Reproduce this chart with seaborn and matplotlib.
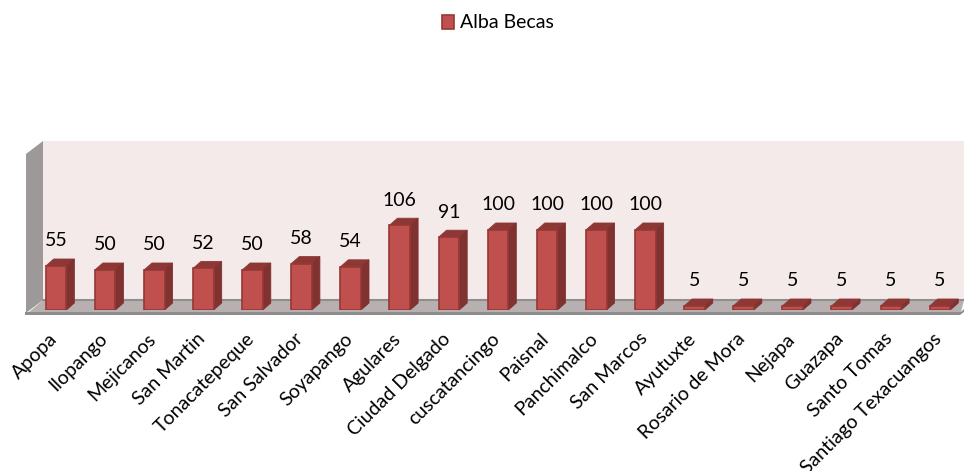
import pandas as pd
import seaborn as sns
import matplotlib
matplotlib.use("Agg")
import matplotlib.pyplot as plt
from matplotlib.patches import Polygon
from matplotlib.transforms import ScaledTranslation

municipios = ["Apopa", "Ilopango", "Mejicanos", "San Martin", "Tonacatepeque", "San Salvador",
              "Soyapango", "Agulares", "Ciudad Delgado", "cuscatancingo", "Paisnal", "Panchimalco",
              "San Marcos", "Ayutuxte", "Rosario de Mora", "Nejapa", "Guazapa", "Santo Tomas",
              "Santiago Texacuangos"]
becas = [55, 50, 50, 52, 50, 58, 54, 106, 91, 100, 100, 100, 100, 5, 5, 5, 5, 5, 5]
serie = "Alba Becas"

W, H = 964, 471
FRONT = "#C0504D"
EDGE = "#953735"
TOP = "#8E3836"
SIDE = "#7F3230"

sns.set_theme(style="white")
plt.rcParams["font.family"] = ["Lato", "DejaVu Sans"]

df = pd.DataFrame({"municipio": municipios, "becas": becas})

fig = plt.figure(figsize=(W / 100, H / 100), dpi=100)

# back wall, side wall and floor, in pixels
bg = fig.add_axes([0, 0, 1, 1])
bg.set_xlim(0, W)
bg.set_ylim(H, 0)
bg.axis("off")
bg.add_patch(Polygon([(43, 141), (964, 141), (964, 300), (43, 300)], fc="#F5EAEA", ec="none"))
bg.add_patch(Polygon([(26, 154), (43, 141), (43, 300), (26, 313)], fc="#9D9999", ec="none"))
bg.add_patch(Polygon([(29, 312), (43, 300), (964, 300), (961, 312)], fc="#B8B0B0", ec="none"))
bg.plot([43, 964], [300, 300], color="#8F8F8F", lw=1.5)
bg.add_patch(Polygon([(25, 312), (961, 312), (964, 309), (964, 312), (960, 315), (25, 315)],
                     fc="#8D8D8D", ec="none"))

# chart axes: 0 sits at y=310 px, 0.8 px per unit
ax = fig.add_axes([31.5 / W, 1 - 310 / H, 933 / W, 160 / H])
ax.patch.set_alpha(0)
sns.barplot(data=df, x="municipio", y="becas", color=FRONT, saturation=1, width=0.42,
            edgecolor=EDGE, linewidth=1.2, label=serie, ax=ax, zorder=3)
ax.set_xlim(-0.5, len(municipios) - 0.5)
ax.set_ylim(0, 200)
ax.set_xlabel("")
ax.set_ylabel("")
ax.set_yticks([])
sns.despine(ax=ax, left=True, bottom=True)
ax.tick_params(axis="x", length=0, pad=10)

# labels end a bit left of the bar centre
shift = ScaledTranslation(-7 / 100, -6 / 100, fig.dpi_scale_trans)
for lab in ax.get_xticklabels():
    lab.set_rotation(45)
    lab.set_ha("right")
    lab.set_rotation_mode("anchor")
    lab.set_fontsize(14)
    lab.set_color("black")
    lab.set_transform(lab.get_transform() + shift)

# depth of the bars
dx = 8 / 49.1
dy = 7 / 0.8
for bar in ax.containers[0]:
    x0 = bar.get_x()
    x1 = x0 + bar.get_width()
    h = bar.get_height()
    ax.add_patch(Polygon([(x0, h), (x1, h), (x1 + dx, h + dy), (x0 + dx, h + dy)],
                         fc=TOP, ec=TOP, lw=0.6, zorder=2))
    ax.add_patch(Polygon([(x1, 0), (x1 + dx, dy), (x1 + dx, h + dy), (x1, h)],
                         fc=SIDE, ec=SIDE, lw=0.6, zorder=2))

ax.bar_label(ax.containers[0], padding=12, fontsize=14, color="black")

handles, labels = ax.get_legend_handles_labels()
if ax.get_legend() is not None:
    ax.get_legend().remove()
fig.legend(handles, labels, loc="center", bbox_to_anchor=(498 / W, 1 - 23 / H), frameon=False,
           fontsize=14, handlelength=0.6, handleheight=0.7, handletextpad=0.3,
           labelcolor="black")

fig.savefig("out.png", dpi=100)
